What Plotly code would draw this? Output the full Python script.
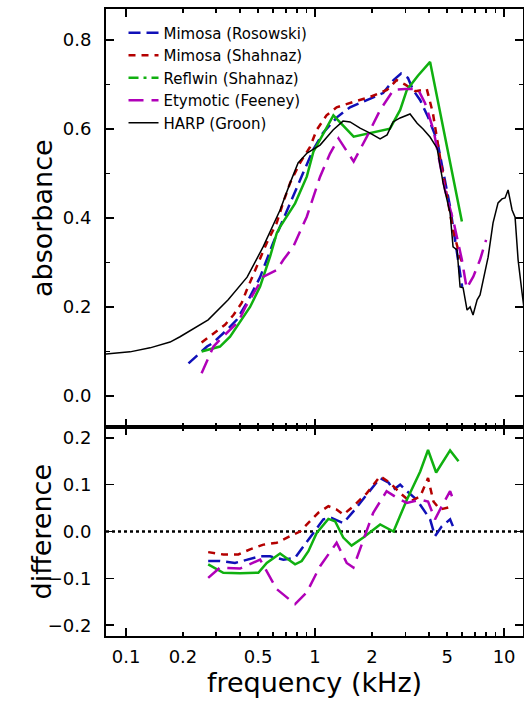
import plotly.graph_objects as go

# ---------------- data (frequency in kHz) ----------------
harp_f = [0.078, 0.105, 0.134, 0.171, 0.193, 0.246, 0.272, 0.347, 0.437, 0.531, 0.653, 0.738, 0.813,
          0.907, 1.063, 1.245, 1.406, 1.532, 1.73, 1.954, 2.208, 2.404, 2.586, 2.817, 3.18, 3.467,
          3.727, 4.058, 4.42, 4.755, 4.99, 5.18, 5.37, 5.64, 5.85, 6.07, 6.37, 6.61, 6.85, 7.20,
          7.46, 7.74, 8.23, 8.74, 9.29, 9.75, 10.12, 10.5, 11.02, 11.43, 11.86, 12.45, 12.9]
harp_a = [0.094, 0.099, 0.108, 0.121, 0.133, 0.160, 0.171, 0.216, 0.267, 0.335, 0.418, 0.479, 0.524,
          0.546, 0.564, 0.598, 0.618, 0.616, 0.602, 0.591, 0.578, 0.587, 0.616, 0.625, 0.634, 0.613,
          0.600, 0.582, 0.557, 0.479, 0.440, 0.411, 0.335, 0.328, 0.245, 0.243, 0.193, 0.200, 0.182,
          0.216, 0.227, 0.261, 0.312, 0.389, 0.434, 0.443, 0.445, 0.463, 0.418, 0.402, 0.306, 0.231, 0.18]

ros_f = [0.214, 0.246, 0.268, 0.288, 0.311, 0.341, 0.385, 0.435, 0.512, 0.600, 0.677, 0.765, 0.864,
         0.976, 1.10, 1.31, 1.53, 1.88, 2.29, 2.6, 2.85, 3.1, 3.3, 3.6, 3.96, 4.42, 4.76, 5.18, 5.50,
         5.85, 6.0]
ros_a = [0.073, 0.097, 0.111, 0.119, 0.132, 0.148, 0.171, 0.209, 0.267, 0.344, 0.396, 0.447, 0.501,
         0.553, 0.591, 0.627, 0.649, 0.665, 0.681, 0.71, 0.725, 0.715, 0.688, 0.665, 0.627, 0.575,
         0.501, 0.425, 0.351, 0.267, 0.245]

msh_f = [0.251, 0.290, 0.334, 0.370, 0.409, 0.435, 0.492, 0.555, 0.627, 0.677, 0.738, 0.833, 0.941,
         1.02, 1.15, 1.30, 1.59, 1.95, 2.40, 2.7, 3.0, 3.4, 3.9, 4.2, 4.58, 4.99, 5.37, 5.85, 6.0]
msh_a = [0.12, 0.141, 0.160, 0.182, 0.209, 0.238, 0.290, 0.344, 0.389, 0.434, 0.479, 0.524, 0.560,
         0.598, 0.631, 0.649, 0.661, 0.672, 0.688, 0.71, 0.70, 0.685, 0.69, 0.636, 0.537, 0.447,
         0.373, 0.312, 0.30]

rfw_f = [0.251, 0.314, 0.355, 0.409, 0.453, 0.512, 0.578, 0.627, 0.653, 0.784, 0.904, 0.98, 1.106,
         1.25, 1.60, 1.88, 2.49, 2.82, 3.06, 3.5, 4.06, 5.98]
rfw_a = [0.100, 0.111, 0.133, 0.171, 0.2, 0.246, 0.313, 0.366, 0.380, 0.433, 0.493, 0.549, 0.590,
         0.631, 0.583, 0.590, 0.601, 0.643, 0.688, 0.72, 0.751, 0.392]

ety_f = [0.251, 0.290, 0.32, 0.355, 0.393, 0.426, 0.533, 0.627, 0.68, 0.768, 0.904, 1.063, 1.2, 1.33,
         1.60, 1.88, 2.21, 2.6, 3.0, 3.5, 3.82, 4.23, 4.87, 5.38, 5.98, 6.34, 6.87, 7.46, 8.03]
ety_a = [0.051, 0.111, 0.13, 0.148, 0.167, 0.198, 0.268, 0.283, 0.306, 0.336, 0.403, 0.493, 0.545,
         0.579, 0.527, 0.583, 0.643, 0.688, 0.69, 0.69, 0.658, 0.598, 0.463, 0.395, 0.306, 0.242,
         0.268, 0.306, 0.351]

# differences
ros_df = [0.272, 0.314, 0.377, 0.435, 0.512, 0.578, 0.68, 0.784, 0.867, 0.98, 1.106, 1.225, 1.41,
          1.595, 1.88, 2.21, 2.45, 2.60, 2.82, 3.06, 3.45, 3.82, 4.06, 4.31, 4.68, 5.18, 5.50]
ros_d = [-0.063, -0.063, -0.067, -0.060, -0.053, -0.053, -0.060, -0.056, -0.031, -0.003, 0.026,
         0.029, 0.018, 0.043, 0.079, 0.114, 0.104, 0.089, 0.100, 0.086, 0.068, 0.043, 0.026, -0.010,
         0.011, 0.026, 0.0]

msh_df = [0.272, 0.327, 0.393, 0.453, 0.533, 0.627, 0.738, 0.833, 0.941, 1.04, 1.176, 1.30, 1.41,
          1.595, 1.88, 2.21, 2.49, 2.82, 3.18, 3.6, 3.96, 4.23, 4.58, 5.38]
msh_d = [-0.044, -0.049, -0.049, -0.038, -0.028, -0.024, -0.010, 0.0, 0.022, 0.040, 0.054, 0.047,
         0.036, 0.054, 0.082, 0.118, 0.104, 0.082, 0.064, 0.075, 0.114, 0.064, 0.047, 0.054]

rfw_df = [0.272, 0.327, 0.401, 0.501, 0.555, 0.653, 0.784, 0.85, 0.922, 1.02, 1.176, 1.276, 1.41,
          1.56, 1.80, 2.21, 2.60, 3.06, 3.60, 3.96, 4.37, 5.18, 5.74]
rfw_d = [-0.070, -0.088, -0.089, -0.088, -0.067, -0.047, -0.070, -0.063, -0.042, -0.003, 0.027,
         0.022, -0.013, -0.030, -0.013, 0.015, 0.0, 0.068, 0.128, 0.174, 0.126, 0.173, 0.150]

ety_df = [0.272, 0.314, 0.401, 0.512, 0.627, 0.784, 0.904, 1.063, 1.30, 1.47, 1.595, 1.84, 2.03,
          2.39, 2.71, 3.06, 3.6, 3.96, 4.31, 4.68, 5.18, 5.38]
ety_d = [-0.099, -0.077, -0.079, -0.060, -0.123, -0.155, -0.130, -0.074, -0.024, -0.067, -0.077,
         -0.010, 0.040, 0.086, 0.072, 0.061, 0.068, 0.064, 0.026, 0.054, 0.086, 0.068]

x_label_ticks = [0.1, 0.2, 0.5, 1, 2, 5, 10]
x_label_text = ["0.1", "0.2", "0.5", "1", "2", "5", "10"]
x_minor_ticks = [0.3, 0.4, 0.6, 0.7, 0.8, 0.9, 3, 4, 6, 7, 8, 9]
x_decade_ticks = [0.1, 1, 10]
y_top_ticks = [0.0, 0.2, 0.4, 0.6, 0.8]
y_top_minor = [0.1, 0.3, 0.5, 0.7]
y_bot_ticks = [-0.2, -0.1, 0.0, 0.1, 0.2]

BLUE = "#1010b8"
RED = "#b40000"
GREEN = "#10b010"
MAG = "#b000b8"
FONT = "DejaVu Sans"

fig = go.Figure()

series = [
    ("Mimosa (Rosowski)", ros_f, ros_a, ros_df, ros_d, BLUE, "12px,6px", 2.5),
    ("Mimosa (Shahnaz)", msh_f, msh_a, msh_df, msh_d, RED, "7px,6px", 2.5),
    ("Reflwin (Shahnaz)", rfw_f, rfw_a, rfw_df, rfw_d, GREEN, "solid", 2.5),
    ("Etymotic (Feeney)", ety_f, ety_a, ety_df, ety_d, MAG, "15px,8px", 2.5),
]

for rank, (name, f, a, df, d, col, dash, w) in enumerate(series):
    is_reflwin = name.startswith("Reflwin")
    fig.add_trace(go.Scatter(x=f, y=a, mode="lines", name=name,
                             line=dict(color=col, dash=dash, width=w),
                             showlegend=not is_reflwin, legendrank=rank + 1,
                             xaxis="x2", yaxis="y"))
    if is_reflwin:
        # legend sample drawn as dash-dot as in the original key
        fig.add_trace(go.Scatter(x=[None], y=[None], mode="lines", name=name,
                                 line=dict(color=col, dash="10px,5px,3px,5px", width=w),
                                 legendrank=rank + 1, xaxis="x2", yaxis="y"))
    fig.add_trace(go.Scatter(x=df, y=d, mode="lines", name=name,
                             line=dict(color=col, dash=dash, width=w),
                             showlegend=False, xaxis="x", yaxis="y2"))

fig.add_trace(go.Scatter(x=harp_f, y=harp_a, mode="lines", name="HARP (Groon)",
                         line=dict(color="black", width=1.5), legendrank=10,
                         xaxis="x2", yaxis="y"))

# empty helper traces so overlay axes (long decade ticks) get drawn
fig.add_trace(go.Scatter(x=[], y=[], showlegend=False, hoverinfo="skip", xaxis="x3", yaxis="y2"))
fig.add_trace(go.Scatter(x=[], y=[], showlegend=False, hoverinfo="skip", xaxis="x4", yaxis="y"))

xr = [-1.106, 1.1]
split = 0.3333

common_x = dict(type="log", range=xr, ticks="inside", tickwidth=1.5, tickcolor="black",
                showgrid=False, zeroline=False, automargin=False)

tickfont = dict(family=FONT, size=18, color="black")
titlefont = dict(family=FONT, size=27, color="black")

fig.update_layout(
    width=524, height=702,
    margin=dict(l=106, r=1, t=9, b=66, autoexpand=False),
    paper_bgcolor="white", plot_bgcolor="white",
    font=dict(family=FONT, color="black"),
    showlegend=True,
    legend=dict(x=0.042, y=0.988, xanchor="left", yanchor="top",
                bgcolor="rgba(0,0,0,0)", borderwidth=0,
                font=dict(family=FONT, size=15, color="black"),
                tracegroupgap=0, itemwidth=30),
    xaxis=dict(**common_x, anchor="y2", domain=[0, 1],
               tickvals=x_label_ticks, ticktext=x_label_text, ticklen=4,
               minor=dict(tickvals=x_minor_ticks, ticklen=4, ticks="inside",
                          tickwidth=1.5, tickcolor="black"),
               showline=True, linewidth=2, linecolor="black", mirror="ticks",
               tickfont=tickfont, ticklabelstandoff=3,
               title=dict(text="frequency (kHz)", font=titlefont, standoff=3)),
    xaxis3=dict(**common_x, anchor="y2", overlaying="x",
                tickvals=x_decade_ticks, ticklen=8, showticklabels=False,
                showline=False, mirror="ticks"),
    xaxis2=dict(**common_x, anchor="y", matches="x",
                tickvals=x_label_ticks, ticklen=4, showticklabels=False,
                minor=dict(tickvals=x_minor_ticks, ticklen=4, ticks="inside",
                           tickwidth=1.5, tickcolor="black"),
                showline=True, linewidth=2, linecolor="black", mirror="ticks"),
    xaxis4=dict(**common_x, anchor="y", overlaying="x2",
                tickvals=x_decade_ticks, ticklen=8, showticklabels=False,
                showline=False, mirror="ticks"),
    yaxis=dict(domain=[split, 1], range=[-0.07, 0.87], anchor="x2", automargin=False,
               tickvals=y_top_ticks, tickformat=".1f", ticks="inside", ticklen=8,
               tickwidth=1.5, tickcolor="black",
               minor=dict(tickvals=y_top_minor, ticklen=4, ticks="inside",
                          tickwidth=1.5, tickcolor="black"),
               showline=True, linewidth=2, linecolor="black", mirror="ticks",
               showgrid=False, zeroline=False, tickfont=tickfont, ticklabelstandoff=9),
    yaxis2=dict(domain=[0, split], range=[-0.223, 0.223], anchor="x", automargin=False,
                tickvals=y_bot_ticks, tickformat=".1f", ticks="inside", ticklen=8,
                tickwidth=1.5, tickcolor="black",
                showline=True, linewidth=2, linecolor="black", mirror="ticks",
                showgrid=False, zeroline=False, tickfont=tickfont, ticklabelstandoff=9),
    annotations=[
        dict(text="absorbance", textangle=-90, xref="paper", yref="y domain",
             x=0, y=0.5, xanchor="center", yanchor="middle", xshift=-64,
             showarrow=False, font=titlefont),
        dict(text="difference", textangle=-90, xref="paper", yref="y2 domain",
             x=0, y=0.5, xanchor="center", yanchor="middle", xshift=-64,
             showarrow=False, font=titlefont),
    ],
    shapes=[dict(type="line", xref="x domain", x0=0, x1=1, yref="y2", y0=0, y1=0,
                 line=dict(color="black", width=2.5, dash="dot"), layer="below")],
)

# remove the page's default 8px body margin so the figure fills the window exactly
fig.write_html("out.html",
               config={"displayModeBar": False, "staticPlot": True},
               post_script="document.body.style.margin='0';document.body.style.overflow='hidden';")
